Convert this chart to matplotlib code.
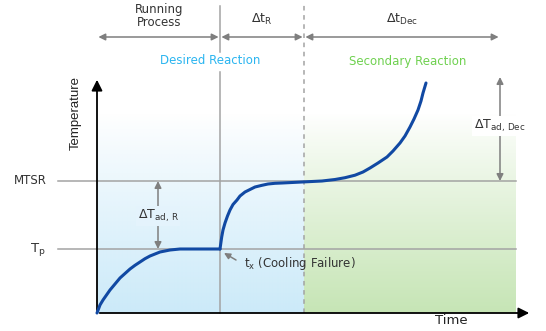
import numpy as np
import matplotlib
matplotlib.use("Agg")
import matplotlib.pyplot as plt

# schematic units: time from the origin, temperature above the start level
t_heat = [0, 3, 6, 9.5, 13, 18, 23, 28, 33, 38, 43, 48, 53, 58, 63, 68, 73, 78, 83, 93, 123]
T_heat = [0, 8, 13, 18, 23, 29, 35, 39.5, 44, 47.7, 51, 54.3, 57, 59, 61, 62, 63, 63.5, 64, 64, 64]
t_run = [123, 124.7, 126, 128, 130.5, 133, 136, 140, 143, 148, 153, 158, 165, 171,
         178, 185, 205, 225, 238, 248, 258, 266, 273, 281, 290, 296, 303, 308, 313,
         317, 321, 324, 326, 329]
T_run = [64, 76, 83, 90, 97, 103, 108.5, 113, 117, 121, 123.5, 126, 127.7, 129,
         129.7, 130, 131, 132, 133.5, 135.3, 137.8, 141, 145, 150, 156, 162, 170, 177, 186,
         194, 203, 212, 220, 230]

T_p, T_mtsr = 64, 132
t_fail, t_dec, t_dec_end = 123, 207, 403
t_axis_end, T_axis_end = 435, 236
T_dec_top = 236
span_left, span_right = -39, 419
phase_labels = ["Running\nProcess", r"$\Delta\mathrm{t}_\mathrm{R}$", r"$\Delta\mathrm{t}_\mathrm{Dec}$"]

GRAY = "#a3a3a3"
ARROW = "#7f7f7f"
CURVE = "#1149a3"
BLUE_TXT = "#2bb5f0"
GREEN_TXT = "#6fd150"

fig = plt.figure(figsize=(5.46, 3.31), dpi=100)
ax = fig.add_axes([0, 0, 1, 1])
ax.axis("off")

# background gradients, fading out towards the top
def gradient(x0, x1, top, rgb):
    n = 200
    a = np.linspace(0, 1, n) ** 0.9
    img = np.zeros((n, 2, 4))
    img[..., :3] = rgb
    img[..., 3] = a[:, None]
    ax.imshow(img, extent=[x0, x1, 0, top], origin="upper", aspect="auto",
              interpolation="bilinear", zorder=0)

gradient(0, t_dec, 200, (0.80, 0.92, 0.98))
gradient(t_dec, span_right, 200, (0.78, 0.90, 0.71))
ax.set_xlim(-97, 449)
ax.set_ylim(-18, 313)

# guide lines
for lvl in (T_p, T_mtsr):
    ax.plot([span_left, span_right], [lvl, lvl], color=GRAY, lw=1.1, zorder=1)
ax.plot([t_fail, t_fail], [0, 241], color=GRAY, lw=1.1, zorder=1)
ax.plot([t_fail, t_fail], [261, 307], color=GRAY, lw=1.1, zorder=1)
ax.plot([t_dec, t_dec], [0, 308], color=GRAY, lw=1.1, ls=(0, (3, 3)), zorder=1)

# axes arrows
ax.annotate("", xy=(0, T_axis_end), xytext=(0, 0),
            arrowprops=dict(arrowstyle="-|>", color="black", lw=1.3, mutation_scale=16), zorder=3)
ax.annotate("", xy=(t_axis_end, 0), xytext=(0, 0),
            arrowprops=dict(arrowstyle="-|>", color="black", lw=1.3, mutation_scale=16), zorder=3)

# temperature curve
ax.plot(t_heat, T_heat, color=CURVE, lw=2.2, solid_capstyle="round", solid_joinstyle="round", zorder=4)
ax.plot(t_run, T_run, color=CURVE, lw=2.2, solid_capstyle="round", solid_joinstyle="round", zorder=4)

# phase arrows on top
y_ph = 276
bounds = [0, t_fail, t_dec, t_dec_end]
for i in range(3):
    ax.annotate("", xy=(bounds[i + 1], y_ph), xytext=(bounds[i], y_ph),
                arrowprops=dict(arrowstyle="<|-|>", color=ARROW, lw=1.1,
                                mutation_scale=10, shrinkA=1, shrinkB=1))
ax.text(62, 297, phase_labels[0], ha="center", va="center", fontsize=8.5,
        color="#333333", linespacing=1.0)
ax.text(165, 294, phase_labels[1], ha="center", va="center", fontsize=9, color="#333333")
ax.text(305, 294, phase_labels[2], ha="center", va="center", fontsize=9, color="#333333")

ax.text(113, 252, "Desired Reaction", ha="center", va="center", fontsize=8.5, color=BLUE_TXT)
ax.text(311, 252, "Secondary Reaction", ha="center", va="center", fontsize=8.5, color=GREEN_TXT)

# adiabatic rise arrows
ax.annotate("", xy=(61, T_p), xytext=(61, T_mtsr),
            arrowprops=dict(arrowstyle="<|-|>", color=ARROW, lw=1.1, mutation_scale=10,
                            shrinkA=0, shrinkB=0), zorder=2)
ax.text(61, 97, r"$\Delta\mathrm{T}_\mathrm{ad,\,R}$", ha="center", va="center",
        fontsize=9, color="#333333", zorder=3,
        bbox=dict(boxstyle="square,pad=0.15", fc="#e4f3fc", ec="none"))
ax.annotate("", xy=(t_dec_end, T_mtsr), xytext=(t_dec_end, T_dec_top),
            arrowprops=dict(arrowstyle="<|-|>", color=ARROW, lw=1.1, mutation_scale=10,
                            shrinkA=0, shrinkB=0), zorder=2)
ax.text(t_dec_end, 187, r"$\Delta\mathrm{T}_\mathrm{ad,\,Dec}$", ha="center", va="center",
        fontsize=9, color="#333333", zorder=3,
        bbox=dict(boxstyle="square,pad=0.15", fc="white", ec="none"))

# level labels
ax.text(-67, T_mtsr, "MTSR", ha="center", va="center", fontsize=8.5, color="#333333")
ax.text(-59, T_p, r"$\mathrm{T}_\mathrm{p}$", ha="center", va="center", fontsize=9.5, color="#333333")

# cooling failure
ax.annotate("", xy=(127, 60), xytext=(139, 53),
            arrowprops=dict(arrowstyle="-|>", color=ARROW, lw=1.1, mutation_scale=9,
                            shrinkA=0, shrinkB=0))
ax.text(147, 50, r"$\mathrm{t}_\mathrm{x}$ (Cooling Failure)", ha="left", va="center",
        fontsize=8.5, color="#333333")

ax.text(-21, 200, "Temperature", rotation=90, ha="center", va="center", fontsize=9.5,
        family=["Liberation Sans Narrow", "Liberation Sans", "DejaVu Sans"], color="#222222")
ax.text(354, -8, "Time", ha="center", va="center", fontsize=9.5, color="#222222")

fig.savefig("out.png", dpi=100)
